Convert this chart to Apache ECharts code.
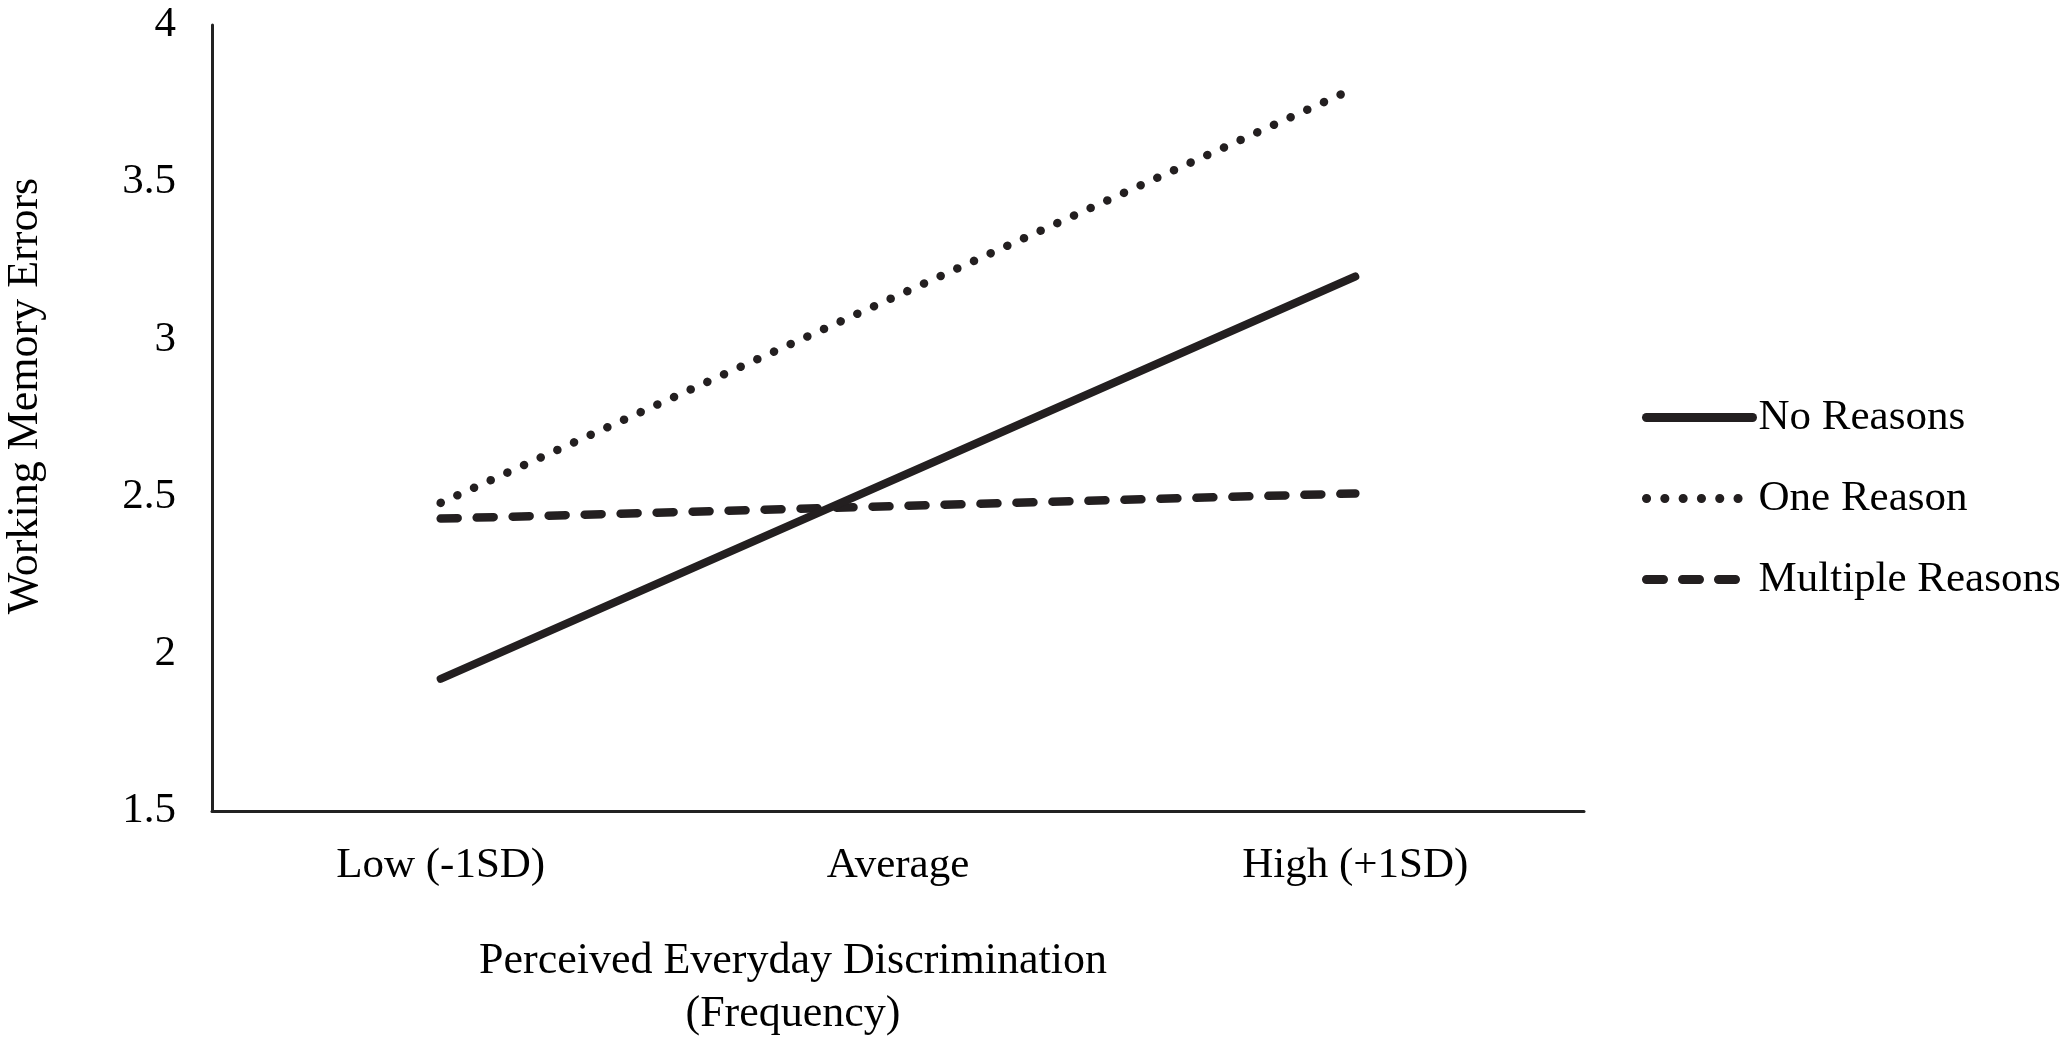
<!DOCTYPE html>
<html>
<head>
<meta charset="utf-8">
<script src="https://cdn.jsdelivr.net/npm/echarts@6/dist/echarts.min.js"></script>
<style>
html,body{margin:0;padding:0;background:#fff;}
#chart{width:2070px;height:1046px;}
</style>
</head>
<body>
<div id="chart"></div>
<script>
const categories = ['Low (-1SD)', 'Average', 'High (+1SD)'];
const noReasons = [1.92, 2.56, 3.20];
const oneReason = [2.48, 3.14, 3.80];
const multipleReasons = [2.43, 2.47, 2.51];
const yTicks = { min: 1.5, max: 4, interval: 0.5 };

const FONT = "'Liberation Serif', 'Times New Roman', serif";
const FS = 43;
const INK = '#231f20';
const DOT = [0.1, 18.2];
const DASH = [17, 19];

const chart = echarts.init(document.getElementById('chart'), null, { renderer: 'canvas' });
const option = {
  backgroundColor: '#ffffff',
  animation: false,
  textStyle: { fontFamily: FONT, color: '#000' },
  grid: { left: 212, right: 486, top: 25, bottom: 235, containLabel: false },
  legend: {
    orient: 'vertical',
    left: 1637,
    top: 391,
    itemWidth: 106,
    itemHeight: 16,
    itemGap: 38,
    itemStyle: { opacity: 0 },
    textStyle: { fontFamily: FONT, fontSize: FS, color: '#000', padding: [0, 0, 0, 1] },
    data: [
      { name: 'No Reasons', lineStyle: { width: 9, type: 'solid', cap: 'round', color: INK } },
      { name: 'One Reason', lineStyle: { width: 9, type: DOT, cap: 'round', color: INK } },
      { name: 'Multiple Reasons', lineStyle: { width: 9, type: DASH, cap: 'round', color: INK } }
    ]
  },
  xAxis: {
    type: 'category',
    data: categories,
    boundaryGap: true,
    axisLine: { lineStyle: { color: '#222', width: 3 } },
    axisTick: { show: false },
    axisLabel: { fontFamily: FONT, fontSize: FS, color: '#000', margin: 33 },
    splitLine: { show: false }
  },
  yAxis: {
    type: 'value',
    min: yTicks.min,
    max: yTicks.max,
    interval: yTicks.interval,
    axisLine: { show: true, lineStyle: { color: '#222', width: 3 } },
    axisTick: { show: false },
    axisLabel: { fontFamily: FONT, fontSize: FS, color: '#000', margin: 36 },
    splitLine: { show: false }
  },
  graphic: [
    {
      type: 'text',
      x: 25, y: 396,
      rotation: Math.PI / 2,
      style: {
        text: 'Working Memory Errors',
        font: '44px ' + FONT,
        fill: '#000',
        align: 'center',
        verticalAlign: 'middle'
      }
    },
    {
      type: 'text',
      x: 793,
      y: 935,
      style: {
        text: 'Perceived Everyday Discrimination\n(Frequency)',
        font: '44px ' + FONT,
        fill: '#000',
        align: 'center',
        lineHeight: 53
      }
    }
  ],
  series: [
    {
      name: 'No Reasons',
      type: 'line',
      data: noReasons,
      symbol: 'none',
      lineStyle: { color: INK, width: 8, cap: 'round' },
      itemStyle: { color: INK },
      z: 3
    },
    {
      name: 'One Reason',
      type: 'line',
      data: oneReason,
      symbol: 'none',
      lineStyle: { color: INK, width: 8.5, type: DOT, cap: 'round' },
      itemStyle: { color: INK },
      z: 2
    },
    {
      name: 'Multiple Reasons',
      type: 'line',
      data: multipleReasons,
      symbol: 'none',
      lineStyle: { color: INK, width: 8.5, type: DASH, cap: 'round' },
      itemStyle: { color: INK },
      z: 2
    }
  ]
};
chart.setOption(option);
</script>
</body>
</html>
